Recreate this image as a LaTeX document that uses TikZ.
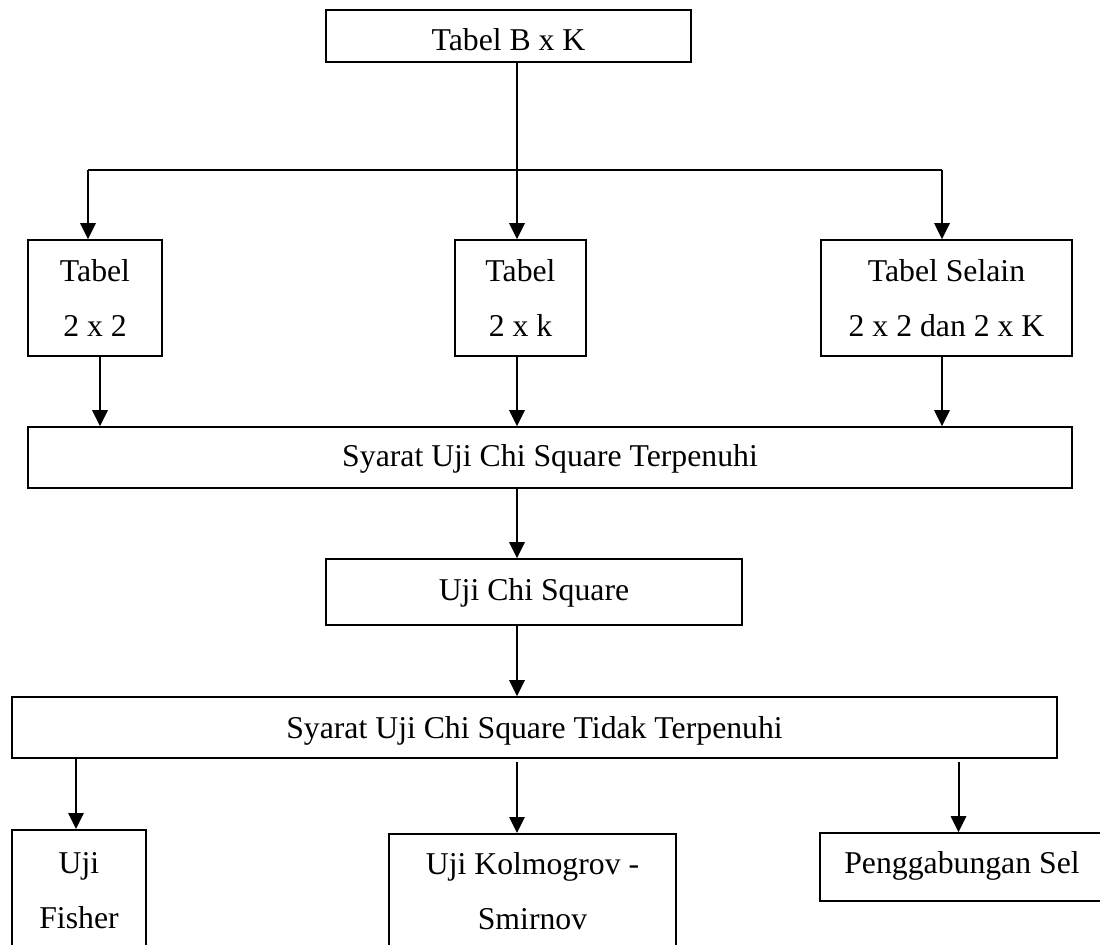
\documentclass[tikz,border=0pt]{standalone}
\usepackage{fontspec}
\setmainfont{Liberation Serif}
\usetikzlibrary{arrows.meta,calc}
\tikzset{
  box/.style={draw, line width=1.3pt, rectangle, inner xsep=0pt, inner ysep=0pt, minimum height=0pt},
  arr/.style={line width=1.5pt, -{Triangle[length=12pt,width=11.5pt]}},
  conn/.style={line width=1.5pt},
  every node/.style={font=\fontsize{23.8pt}{41.25pt}\selectfont}
}
\begin{document}
\begin{tikzpicture}[x=0.75pt,y=-0.75pt]
\useasboundingbox (0,0) rectangle (1100,945);
\clip (0,0) rectangle (1100,945);
% single-line boxes, placed by baseline
\node[box, anchor=base, minimum width=273.75pt, text height=30.5pt, text depth=8.5pt] (top) at (508.5,50.7) {Tabel B x K};
\node[box, anchor=base, minimum width=783pt, text height=29.25pt, text depth=16.5pt] (s1) at (550,466) {Syarat Uji Chi Square Terpenuhi};
\node[box, anchor=base, minimum width=312pt, text height=30.75pt, text depth=18.75pt] (uji) at (534,600) {Uji Chi Square};
\node[box, anchor=base, minimum width=783.75pt, text height=30.75pt, text depth=15pt] (s2) at (534.5,738) {Syarat Uji Chi Square Tidak Terpenuhi};
\node[box, anchor=base, minimum width=213pt, text height=30pt, text depth=21pt] (peng) at (962,873) {Penggabungan Sel};
% two-line boxes
\node[box, align=center, minimum width=100.5pt, minimum height=87pt] (t22) at (95,298) {Tabel\\2 x 2};
\node[box, align=center, minimum width=98.25pt, minimum height=87pt] (t2k) at (520.5,298) {Tabel\\2 x k};
\node[box, align=center, minimum width=188.25pt, minimum height=87pt] (tsel) at (946.5,298) {Tabel Selain\\2 x 2 dan 2 x K};
% bottom boxes cut by the page edge
\node[box, align=center, anchor=north, minimum width=100.5pt, inner ysep=16.7pt, text depth=150pt] (fisher) at (79,829) {Uji\\Fisher};
\node[box, align=center, anchor=north, minimum width=215.25pt, inner ysep=13.7pt, text depth=150pt] (kolm) at (532.5,833) {Uji Kolmogrov -\\Smirnov};
% connector coordinates
\coordinate (hub) at (517,170);
\coordinate (hl) at (88,170);
\coordinate (hr) at (942,170);
\coordinate (ca) at (100,0);
\coordinate (cf) at (76,0);
\coordinate (cp) at (958.5,0);
% connectors
\draw[conn] (top.south -| hub) -- (hub);
\draw[conn] (hl) -- (hr);
\draw[arr] (hl) -- (t22.north -| hl);
\draw[arr] (hub) -- (t2k.north -| hub);
\draw[arr] (hr) -- (tsel.north -| hr);
\draw[arr] (t22.south -| ca) -- (s1.north -| ca);
\draw[arr] (t2k.south -| hub) -- (s1.north -| hub);
\draw[arr] (tsel.south -| hr) -- (s1.north -| hr);
\draw[arr] (s1.south -| hub) -- (uji.north -| hub);
\draw[arr] (uji.south -| hub) -- (s2.north -| hub);
\draw[arr] (s2.south -| cf) -- (fisher.north -| cf);
\draw[arr, shorten <=2.25pt] (s2.south -| hub) -- (kolm.north -| hub);
\draw[arr, shorten <=2.25pt] (s2.south -| cp) -- (peng.north -| cp);
\end{tikzpicture}
\end{document}
